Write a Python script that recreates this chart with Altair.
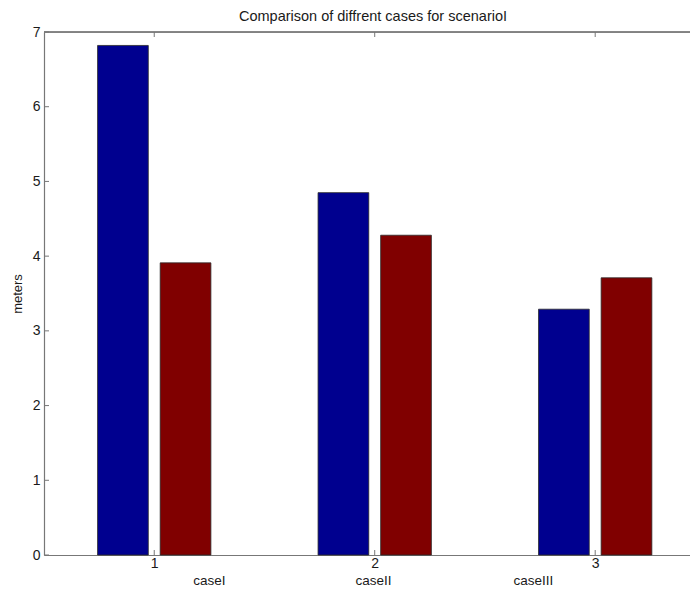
import altair as alt
import pandas as pd

# Data
cases = [1, 2, 3]
series_a = [6.82, 4.85, 3.29]   # blue
series_b = [3.91, 4.28, 3.71]   # dark red
series_names = ["A", "B"]
bar_offsets = [-0.142, 0.142]
bar_half = 0.115
x_ticks = [1, 2, 3]
y_ticks = [0, 1, 2, 3, 4, 5, 6, 7]
case_labels = ["caseI", "caseII", "caseIII"]
case_label_x = [1.25, 1.995, 2.72]
title_text = "Comparison of diffrent cases for scenarioI"
y_title = "meters"
colors = ["#00008F", "#800000"]

X_MAX = 3.43
W, H = 646, 523
FONT = "Liberation Sans"
GRAY = "#777777"
TXT = "#1a1a1a"

rows = []
for ci, c in enumerate(cases):
    for si, vals in enumerate([series_a, series_b]):
        rows.append({"case": c, "series": series_names[si], "value": vals[ci],
                     "base": 0,
                     "x0": c + bar_offsets[si] - bar_half,
                     "x1": c + bar_offsets[si] + bar_half})
bars_df = pd.DataFrame(rows)

xscale = alt.Scale(domain=[0.5, X_MAX], nice=False, zero=False)
yscale = alt.Scale(domain=[0, 7], nice=False)

bars = alt.Chart(bars_df).mark_bar(stroke="#2a2a2a", strokeWidth=0.8).encode(
    x=alt.X("x0:Q", scale=xscale,
            axis=alt.Axis(values=x_ticks, ticks=False, domain=True, domainColor=GRAY,
                          domainWidth=1.2, grid=False,
                          labelFontSize=14, labelFont=FONT, labelColor=TXT,
                          labelPadding=1, title=None, format="d")),
    x2="x1:Q",
    y=alt.Y("value:Q", scale=yscale,
            axis=alt.Axis(values=y_ticks, ticks=False, domain=True, domainColor=GRAY,
                          domainWidth=1.2, grid=False,
                          labelFontSize=14, labelFont=FONT, labelColor=TXT,
                          labelPadding=4, format="d", title=y_title, titleFontSize=13,
                          titleFont=FONT, titleColor=TXT, titleFontWeight="normal",
                          titleAngle=-90, titleX=-27, titleY=H / 2,
                          titleAlign="center", titleBaseline="middle")),
    y2="base:Q",
    color=alt.Color("series:N", scale=alt.Scale(domain=series_names, range=colors), legend=None),
)

xt_df = pd.DataFrame({"t": x_ticks})
yt_df = pd.DataFrame({"t": y_ticks})

xt_bottom = alt.Chart(xt_df).mark_rule(color=GRAY, strokeWidth=1).encode(
    x=alt.X("t:Q", scale=xscale), y=alt.value(H), y2=alt.value(H - 5))
xt_top = alt.Chart(xt_df).mark_rule(color=GRAY, strokeWidth=1).encode(
    x=alt.X("t:Q", scale=xscale), y=alt.value(0), y2=alt.value(5))
yt_left = alt.Chart(yt_df).mark_rule(color=GRAY, strokeWidth=1).encode(
    y=alt.Y("t:Q", scale=yscale), x=alt.value(0), x2=alt.value(5))
top_line = alt.Chart(xt_df).mark_rule(color=GRAY, strokeWidth=1.2).encode(
    x=alt.value(0), x2=alt.value(W), y=alt.value(0))

lab_df = pd.DataFrame({"label": case_labels, "x": case_label_x})
labels = alt.Chart(lab_df).mark_text(font=FONT, fontSize=13.5, color=TXT,
                                     baseline="alphabetic", align="center").encode(
    x=alt.X("x:Q", scale=xscale), y=alt.value(H + 30), text="label:N")

chart = alt.layer(bars, xt_bottom, xt_top, yt_left, top_line, labels).properties(
    width=W, height=H,
    title=alt.TitleParams(title_text, font=FONT, fontSize=14.5, fontWeight="normal",
                          color=TXT, anchor="middle", offset=1, dx=6),
    autosize=alt.AutoSizeParams(type="none"),
    padding={"left": 36, "top": 24, "right": 0, "bottom": 34},
).configure_view(stroke=None).configure(background="white")

chart.save("out.html", embed_options={"renderer": "svg", "actions": False})
